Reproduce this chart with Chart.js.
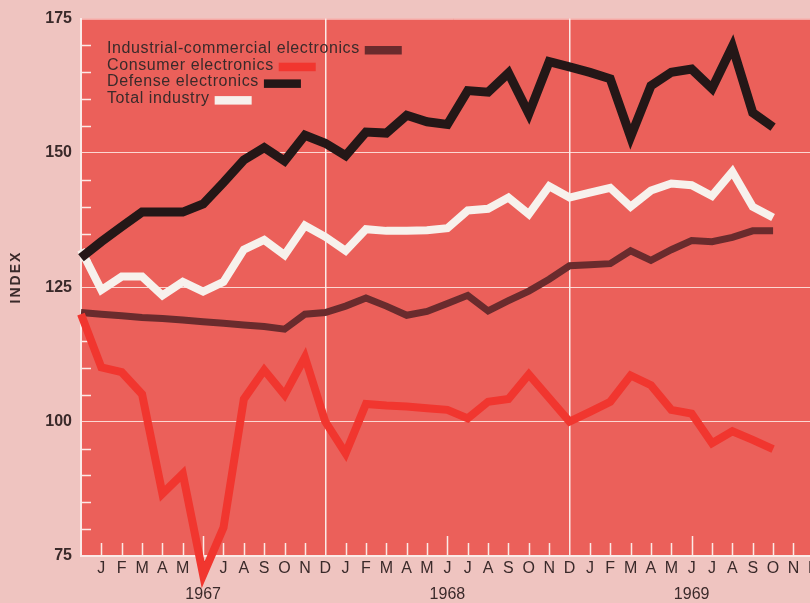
<!DOCTYPE html>
<html>
<head>
<meta charset="utf-8">
<title>Electronics industry index</title>
<script src="https://cdn.jsdelivr.net/npm/chart.js@4.4.1/dist/chart.umd.min.js"></script>
<style>
  html, body { margin: 0; padding: 0; overflow: hidden; background: #efc4c0; }
  #wrap { width: 810px; height: 603px; overflow: hidden; }
  canvas { display: block; }
</style>
</head>
<body>
<div id="wrap"><canvas id="chart" width="826" height="603"></canvas></div>
<script>
// Time axis: monthly points from Dec 1966 (index 0) to Oct 1969 (index 34)
const monthInitials = ['J', 'F', 'M', 'A', 'M', 'J', 'J', 'A', 'S', 'O', 'N', 'D'];
const years = ['1967', '1968', '1969'];
const yTicks = [75, 100, 125, 150, 175];

// Index values per month
const industrialCommercial = [120.3, 120, 119.7, 119.4, 119.2, 118.9, 118.6, 118.3, 118, 117.7, 117.2, 120, 120.3,
  121.5, 123, 121.5, 119.8, 120.5, 122, 123.5, 120.6, 122.5, 124.3, 126.5, 129,
  129.2, 129.4, 131.8, 130, 132, 133.7, 133.5, 134.3, 135.5, 135.5];
const consumer = [120, 110.1, 109.2, 105.1, 86.6, 90.3, 71.5, 80.3, 104.2, 109.6, 105, 112, 100,
  94.1, 103.3, 103, 102.8, 102.5, 102.2, 100.6, 103.7, 104.2, 108.8, 104.4, 100,
  101.8, 103.7, 108.6, 106.8, 102.2, 101.5, 96, 98.2, 96.6, 94.9];
const defense = [130.5, 133.5, 136.3, 139, 139, 139, 140.5, 144.5, 148.7, 151, 148.5, 153.3, 151.8,
  149.5, 153.9, 153.7, 157, 155.8, 155.3, 161.6, 161.3, 164.9, 157.3, 167, 166,
  165, 163.8, 153, 162.5, 165, 165.6, 162, 169.8, 157.5, 154.8];
const totalIndustry = [132, 124.5, 127, 127, 123.5, 126, 124.2, 126, 132, 133.8, 131, 136.5, 134.4,
  131.8, 135.8, 135.5, 135.5, 135.6, 136, 139.3, 139.6, 141.7, 138.6, 143.8, 141.7,
  142.6, 143.5, 140, 143, 144.3, 144, 142, 146.5, 140, 138];

const TEXT = '#3a2a2a';
const PLOT_RED = '#eb605a';
const RULE = '#fbeae7';
const FONT = '"Liberation Sans", Arial, Helvetica, sans-serif';

Chart.defaults.font.family = FONT;

const series = vals => vals.map((v, i) => ({ x: i, y: v }));

// red plot field
const plotBackground = {
  id: 'plotBackground',
  beforeDraw(chart) {
    const { ctx, chartArea: a } = chart;
    ctx.save();
    ctx.fillStyle = PLOT_RED;
    ctx.fillRect(a.left, a.top, a.right - a.left, a.bottom - a.top);
    ctx.strokeStyle = 'rgba(255,240,236,0.85)';
    ctx.lineWidth = 1;
    ctx.beginPath();
    ctx.moveTo(a.left, a.top + 0.5);
    ctx.lineTo(a.right, a.top + 0.5);
    ctx.stroke();
    ctx.restore();
  }
};

// short tick marks inside the axes: every 5 index points, every month
const innerTicks = {
  id: 'innerTicks',
  beforeDatasetsDraw(chart) {
    const { ctx, chartArea: a, scales: { x, y } } = chart;
    ctx.save();
    ctx.strokeStyle = RULE;
    ctx.lineWidth = 1.5;
    ctx.beginPath();
    for (let v = 80; v < 175; v += 5) {
      if (v % 25 === 0) continue;
      const py = Math.round(y.getPixelForValue(v)) + 0.5;
      ctx.moveTo(a.left, py);
      ctx.lineTo(a.left + 10, py);
    }
    for (let i = 1; i <= 36; i++) {
      if (i % 12 === 0) continue;
      const px = Math.round(x.getPixelForValue(i)) + 0.5;
      const len = (i % 12 === 6) ? 20 : 13;
      ctx.moveTo(px, a.bottom);
      ctx.lineTo(px, a.bottom - len);
    }
    ctx.stroke();
    ctx.restore();
  }
};

// legend: label first, colour bar after it
const swatchLegend = {
  id: 'swatchLegend',
  afterDatasetsDraw(chart) {
    const { ctx } = chart;
    ctx.save();
    ctx.font = '16px ' + FONT;
    ctx.letterSpacing = '0.6px';
    ctx.textBaseline = 'alphabetic';
    chart.data.datasets.forEach((ds, i) => {
      const base = 53 + i * 16.7;
      ctx.fillStyle = TEXT;
      ctx.fillText(ds.label, 107, base);
      const w = ctx.measureText(ds.label).width;
      ctx.fillStyle = ds.borderColor;
      ctx.fillRect(107 + w + 5, base - 7, 37, 8.5);
    });
    ctx.restore();
  }
};

// rotated axis title
const indexTitle = {
  id: 'indexTitle',
  afterDraw(chart) {
    const { ctx } = chart;
    ctx.save();
    ctx.translate(16, 277);
    ctx.rotate(-Math.PI / 2);
    ctx.font = 'bold 14px ' + FONT;
    ctx.letterSpacing = '2px';
    ctx.fillStyle = TEXT;
    ctx.textAlign = 'center';
    ctx.textBaseline = 'middle';
    ctx.fillText('INDEX', 0, 0);
    ctx.restore();
  }
};

const lineStyle = {
  pointRadius: 0,
  tension: 0,
  fill: false,
  clip: false,
  borderJoinStyle: 'miter',
  borderCapStyle: 'butt'
};

new Chart(document.getElementById('chart'), {
  type: 'line',
  data: {
    datasets: [
      { ...lineStyle, label: 'Industrial-commercial electronics', data: series(industrialCommercial), borderColor: '#6a2b2d', borderWidth: 7, order: 3 },
      { ...lineStyle, label: 'Consumer electronics', data: series(consumer), borderColor: '#f1362f', borderWidth: 8, order: 2 },
      { ...lineStyle, label: 'Defense electronics', data: series(defense), borderColor: '#241717', borderWidth: 9, order: 0 },
      { ...lineStyle, label: 'Total industry', data: series(totalIndustry), borderColor: '#f7f1ec', borderWidth: 8, order: 1 }
    ]
  },
  options: {
    responsive: false,
    animation: false,
    layout: { padding: { top: 16, right: 0, bottom: 0, left: 0 } },
    plugins: { legend: { display: false }, tooltip: { enabled: false } },
    scales: {
      x: {
        type: 'linear',
        min: 0,
        max: 36.6,
        afterFit(s) { s.height = 47; },
        afterBuildTicks(s) {
          s.ticks = [];
          for (let i = 1; i <= 36; i++) s.ticks.push({ value: i });
        },
        grid: {
          drawTicks: false,
          lineWidth: 1.5,
          color: c => (c.tick && c.tick.value % 12 === 0) ? RULE : 'transparent'
        },
        border: { color: RULE, width: 2 },
        ticks: {
          autoSkip: false,
          maxRotation: 0,
          padding: 0,
          color: TEXT,
          font: { size: 16, lineHeight: 1.6 },
          callback: v => {
            const m = (v - 1) % 12;
            const letter = monthInitials[m];
            return m === 5 ? [letter, years[Math.floor((v - 1) / 12)]] : letter;
          }
        }
      },
      y: {
        min: 75,
        max: 175,
        afterFit(s) { s.width = 81; },
        afterBuildTicks(s) { s.ticks = yTicks.map(v => ({ value: v })); },
        grid: {
          drawTicks: false,
          lineWidth: 1,
          color: c => (c.tick && c.tick.value > 75 && c.tick.value < 175) ? 'rgba(255,236,232,0.85)' : 'transparent'
        },
        border: { color: RULE, width: 2 },
        ticks: { padding: 9, color: TEXT, font: { size: 16, weight: 'bold' } }
      }
    }
  },
  plugins: [plotBackground, innerTicks, swatchLegend, indexTitle]
});
</script>
</body>
</html>
